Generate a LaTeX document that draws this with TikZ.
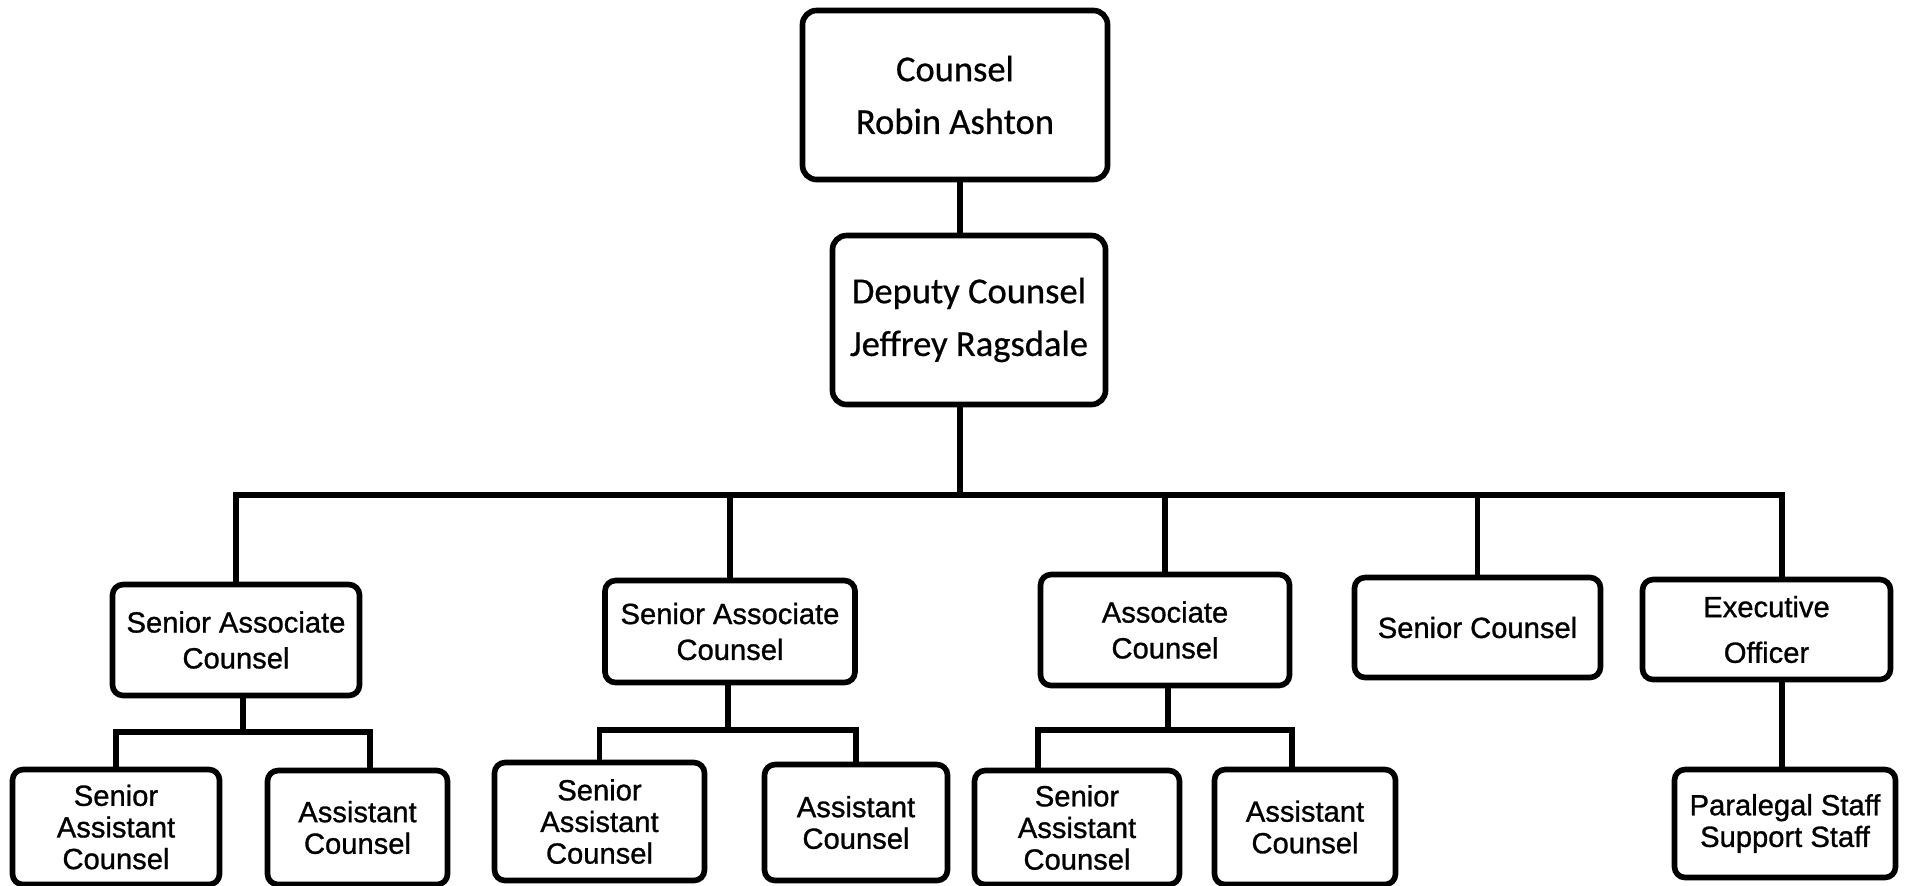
\documentclass[tikz,border=0pt]{standalone}
\usepackage{fontspec}
\setmainfont{Carlito}[UprightFeatures={FakeBold=0.6}]
\newfontfamily\arialfont{Liberation Sans}[UprightFeatures={FakeBold=1}]

\tikzset{
  topbox/.style={draw, line width=1.6pt, rounded corners=4pt, align=center, inner sep=0pt,
    font=\fontsize{10.4}{15}\selectfont},
  box/.style={draw, line width=1.6pt, rounded corners=3pt, align=center, inner sep=0pt,
    font=\arialfont\fontsize{8.3}{10.2}\selectfont},
  subbox/.style={box, font=\arialfont\fontsize{8.3}{9}\selectfont},
  link/.style={line width=1.6pt}
}

\begin{document}
\begin{tikzpicture}
        \useasboundingbox (0,0) rectangle (19.06,-8.85);

        \node[topbox, minimum width=3.05cm, minimum height=1.69cm] (counsel) at (9.55,-0.95) {Counsel\\Robin Ashton};
        \node[topbox, minimum width=2.73cm, minimum height=1.69cm] (deputy) at (9.69,-3.20) {Deputy Counsel\\Jeffrey Ragsdale};

        \node[box, minimum width=2.47cm, minimum height=1.11cm] (sac1) at (2.36,-6.40) {Senior Associate\\Counsel};
        \node[box, minimum width=2.50cm, minimum height=1.02cm] (sac2) at (7.30,-6.315) {Senior Associate\\Counsel};
        \node[box, minimum width=2.49cm, minimum height=1.11cm] (ac) at (11.65,-6.30) {Associate\\Counsel};
        \node[box, minimum width=2.46cm, minimum height=1.00cm] (sc) at (14.775,-6.275) {Senior Counsel};
        \node[box, minimum width=2.48cm, minimum height=1.00cm, font=\arialfont\fontsize{8.3}{13}\selectfont] (eo) at (17.665,-6.295) {Executive\\Officer};

        \node[subbox, minimum width=2.07cm, minimum height=1.15cm] (sasc1) at (1.16,-8.27) {Senior\\Assistant\\Counsel};
        \node[subbox, minimum width=1.80cm, minimum height=1.14cm] (ac1) at (3.575,-8.275) {Assistant\\Counsel};
        \node[subbox, minimum width=2.10cm, minimum height=1.18cm] (sasc2) at (5.995,-8.215) {Senior\\Assistant\\Counsel};
        \node[subbox, minimum width=1.83cm, minimum height=1.16cm] (ac2) at (8.56,-8.225) {Assistant\\Counsel};
        \node[subbox, minimum width=2.05cm, minimum height=1.14cm] (sasc3) at (10.77,-8.275) {Senior\\Assistant\\Counsel};
        \node[subbox, minimum width=1.81cm, minimum height=1.15cm] (ac3) at (13.05,-8.27) {Assistant\\Counsel};
        \node[subbox, minimum width=2.21cm, minimum height=1.08cm] (pl) at (17.85,-8.235) {Paralegal Staff\\Support Staff};

        \coordinate (trunk) at (9.60,-4.95);
        \coordinate (eoj) at (17.82,-4.95);
        \coordinate (j1) at (2.43,-7.32);
        \coordinate (r1) at (3.70,-7.32);
        \coordinate (j2) at (7.28,-7.30);
        \coordinate (j3) at (11.68,-7.30);
        \coordinate (l3) at (10.38,-7.30);
        \coordinate (r3) at (12.92,-7.30);

        \draw[link] (counsel.south -| trunk) -- (deputy.north -| trunk);
        \draw[link] (deputy.south -| trunk) -- (trunk);
        \draw[link] (sac1.north) |- (eoj) -- (eo.north -| eoj);
        \foreach \n in {sac2,ac,sc}
          \draw[link] (\n.north) -- (\n.north |- trunk);

        \draw[link] (sac1.south -| j1) -- (j1);
        \draw[link] (sasc1.north) |- (r1) -- (ac1.north -| r1);
        \draw[link] (sac2.south -| j2) -- (j2);
        \draw[link] (sasc2.north) |- (ac2.north |- j2) -- (ac2.north);
        \draw[link] (ac.south -| j3) -- (j3);
        \draw[link] (sasc3.north -| l3) -- (l3) -- (r3) -- (ac3.north -| r3);
        \draw[link] (eo.south -| eoj) -- (pl.north -| eoj);
      \end{tikzpicture}
\end{document}
